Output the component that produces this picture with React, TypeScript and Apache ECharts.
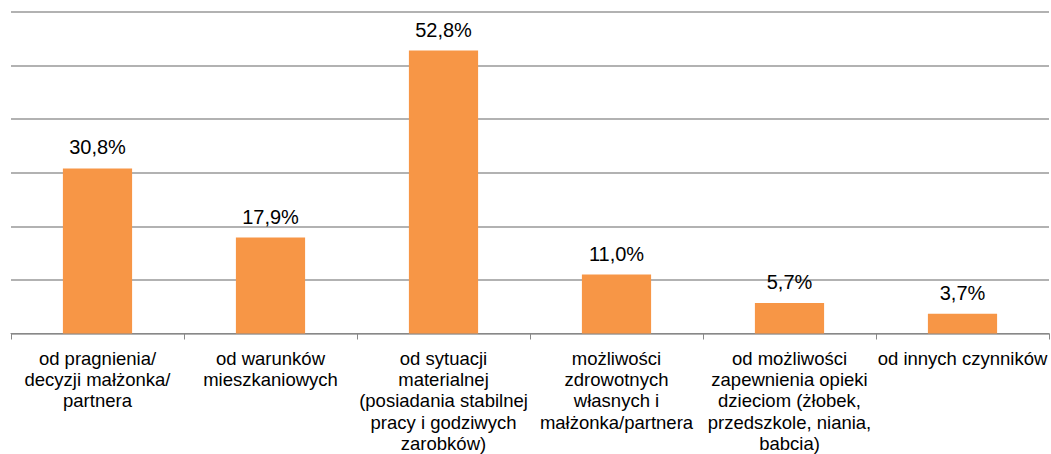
import React, { useEffect, useRef } from "react";
import * as echarts from "echarts";

const categories = [
  "od pragnienia/\ndecyzji małżonka/\npartnera",
  "od warunków\nmieszkaniowych",
  "od sytuacji\nmaterialnej\n(posiadania stabilnej\npracy i godziwych\nzarobków)",
  "możliwości\nzdrowotnych\nwłasnych i\nmałżonka/partnera",
  "od możliwości\nzapewnienia opieki\ndzieciom (żłobek,\nprzedszkole, niania,\nbabcia)",
  "od innych czynników",
];
const values = [30.8, 17.9, 52.8, 11.0, 5.7, 3.7];

export default function App() {
  const ref = useRef<HTMLDivElement>(null);
  useEffect(() => {
    document.body.style.margin = "0";
    const chart = echarts.init(ref.current!, null, { renderer: "svg" });
    chart.setOption({
      animation: false,
      grid: { left: 11, right: 2, top: 12, bottom: 117, containLabel: false },
      xAxis: {
        type: "category",
        data: categories,
        axisLine: { lineStyle: { color: "#888888", width: 1 } },
        axisTick: { show: true, length: 6, lineStyle: { color: "#888888" } },
        axisLabel: {
          interval: 0,
          margin: 14,
          color: "#000",
          fontFamily: "Liberation Sans, Arial, sans-serif",
          fontSize: 18.5,
          lineHeight: 21.3,
        },
      },
      yAxis: {
        type: "value",
        min: 0,
        max: 60,
        interval: 10,
        axisLabel: { show: false },
        axisLine: { show: false },
        axisTick: { show: false },
        splitLine: { lineStyle: { color: "#999999", width: 1.5 } },
      },
      series: [
        {
          type: "bar",
          data: values,
          barWidth: "40%",
          itemStyle: { color: "#F79646" },
          label: {
            show: true,
            position: "top",
            distance: 11,
            color: "#000",
            fontFamily: "Liberation Sans, Arial, sans-serif",
            fontSize: 20,
            formatter: (p: any) => p.value.toFixed(1).replace(".", ",") + "%",
          },
        },
      ],
    });
    return () => chart.dispose();
  }, []);
  return (
    <div
      ref={ref}
      style={{ position: "fixed", left: 0, top: 0, width: 1051, height: 454, background: "#fff" }}
    />
  );
}
